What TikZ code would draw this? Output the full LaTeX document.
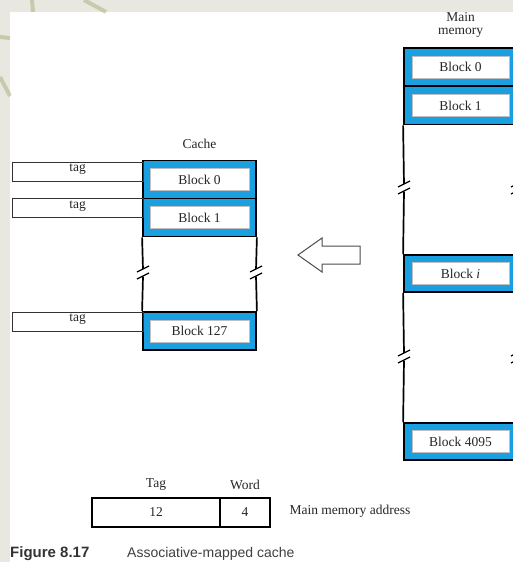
\documentclass[tikz,border=0pt]{standalone}
\usepackage{fontspec}
\setmainfont{Liberation Serif}
\newfontfamily\capfont{Liberation Sans}
\definecolor{blkblue}{HTML}{1A9FE0}
\definecolor{bgc}{HTML}{E8E8E0}
\definecolor{olivec}{HTML}{A9AE7A}
\begin{document}
\begin{tikzpicture}[x=1pt,y=-1pt,
  every node/.style={font=\fontsize{13.5}{13}\selectfont, text=black!85},
  blkouter/.style={draw=black, line width=1.8pt, fill=blkblue, minimum width=113pt, minimum height=38pt, inner sep=0pt},
  blkinner/.style={draw=gray!50, line width=0.4pt, fill=white, minimum height=22pt, inner sep=0pt},
  tagbox/.style={draw=black!80, line width=0.9pt, minimum width=131pt, minimum height=19pt, inner sep=0pt},
  sideline/.style={draw=black, line width=1.7pt},
  fieldbox/.style={draw=black, line width=1.6pt, minimum height=29pt, inner sep=0pt},
  brk/.pic={\fill[white] (-6,-1)--(6,-7)--(6,0)--(-6,6)--cycle;
            \draw[line width=1.3pt, black] (-6,-1)--(6,-7) (-6,6)--(6,0);}
]
\useasboundingbox (0,0) rectangle (513,562);
\fill[bgc] (0,0) rectangle (513,562);
\fill[white] (10,12) rectangle (513,562);
% decorative strokes of the slide
\begin{scope}[olivec, opacity=0.5, line width=4pt]
\draw (32,0) -- (33,12);
\draw (84,0) -- (106,12);
\draw (0,37) -- (10,38);
\draw (0,77) -- (10,96);
\end{scope}

% ---------- Cache ----------
\node (cachelbl) at (199.5,144) {Cache};
\node[blkouter] (cb0) at (199.5,179.5) {};
\node[blkinner, minimum width=99pt] (cb0i) at (cb0.center) {Block 0};
\node[blkouter] (cb1) at (199.5,217.5) {};
\node[blkinner, minimum width=99pt] (cb1i) at (cb1.center) {Block 1};
\node[blkouter] (cb127) at (199.5,331) {};
\node[blkinner, minimum width=99pt] (cb127i) at (cb127.center) {Block 127};

\node[tagbox] (tag0) at (77.5,171.5) {};
\node (tag0t) at (77.5,169.5) {tag};
\node[tagbox] (tag1) at (77.5,208) {};
\node (tag1t) at (77.5,206) {tag};
\node[tagbox] (tag127) at (77.5,321.5) {};
\node (tag127t) at (77.5,319.5) {tag};

\coordinate (cl1) at (143,269.5);
\coordinate (cl2) at (143,276.5);
\coordinate (cr1) at (256,269.5);
\coordinate (cr2) at (256,276.5);
\draw[sideline] (cb1.south west) -- (cl1);
\draw[sideline] (cl2) -- (cb127.north west);
\draw[sideline] (cb1.south east) -- (cr1);
\draw[sideline] (cr2) -- (cb127.north east);
\pic at (143,273) {brk};
\pic at (256,273) {brk};

% ---------- Arrow ----------
\draw[line width=1pt, draw=black!70, fill=white]
  (298,255) -- (322,238) -- (322,246) -- (360,246) -- (360,264) -- (322,264) -- (322,272) -- cycle;

% ---------- Main memory ----------
\node[align=center, font=\fontsize{13.5}{12.5}\selectfont] (memlbl) at (460.5,25) {Main\\memory};
\node[blkouter] (mb0) at (460.5,67) {};
\node[blkinner, minimum width=97pt] (mb0i) at (mb0.center) {Block 0};
\node[blkouter] (mb1) at (460.5,105.5) {};
\node[blkinner, minimum width=97pt] (mb1i) at (mb1.center) {Block 1};
\node[blkouter, minimum height=37pt] (mbi) at (460.5,273.5) {};
\node[blkinner, minimum width=97pt] (mbii) at (mbi.center) {Block \textit{i}};
\node[blkouter, minimum height=37pt] (mb4095) at (460.5,441.5) {};
\node[blkinner, minimum width=97pt] (mb4095i) at (mb4095.center) {Block 4095};

\coordinate (ml1) at (404,184.5);
\coordinate (ml2) at (404,191.5);
\coordinate (ml3) at (404,353.5);
\coordinate (ml4) at (404,360.5);
\coordinate (mr1) at (517,184.5);
\coordinate (mr2) at (517,191.5);
\coordinate (mr3) at (517,353.5);
\coordinate (mr4) at (517,360.5);
\draw[sideline] (mb1.south west) -- (ml1);
\draw[sideline] (ml2) -- (mbi.north west);
\draw[sideline] (mbi.south west) -- (ml3);
\draw[sideline] (ml4) -- (mb4095.north west);
\draw[sideline] (mb1.south east) -- (mr1);
\draw[sideline] (mr2) -- (mbi.north east);
\draw[sideline] (mbi.south east) -- (mr3);
\draw[sideline] (mr4) -- (mb4095.north east);
\pic at (404,188) {brk};
\pic at (404,357) {brk};
\pic at (517,188) {brk};
\pic at (517,357) {brk};

% ---------- Address ----------
\node (taglbl) at (156,485) {Tag};
\node (wordlbl) at (245,485) {Word};
\node[fieldbox, minimum width=128pt] (ftag) at (156,512.5) {12};
\node[fieldbox, minimum width=50pt] (fword) at (245,512.5) {4};
\node[anchor=west] (addrlbl) at (286,511) {Main memory address};

% ---------- Caption ----------
\node[anchor=base west, inner sep=0pt, font=\capfont\bfseries\fontsize{15}{15}\selectfont, text=black!80] (figno) at (10,557.5) {Figure 8.17};
\node[anchor=base west, inner sep=0pt, font=\capfont\fontsize{14}{14}\selectfont, text=black!75] (figttl) at (127,557.5) {Associative-mapped cache};
\end{tikzpicture}
\end{document}
